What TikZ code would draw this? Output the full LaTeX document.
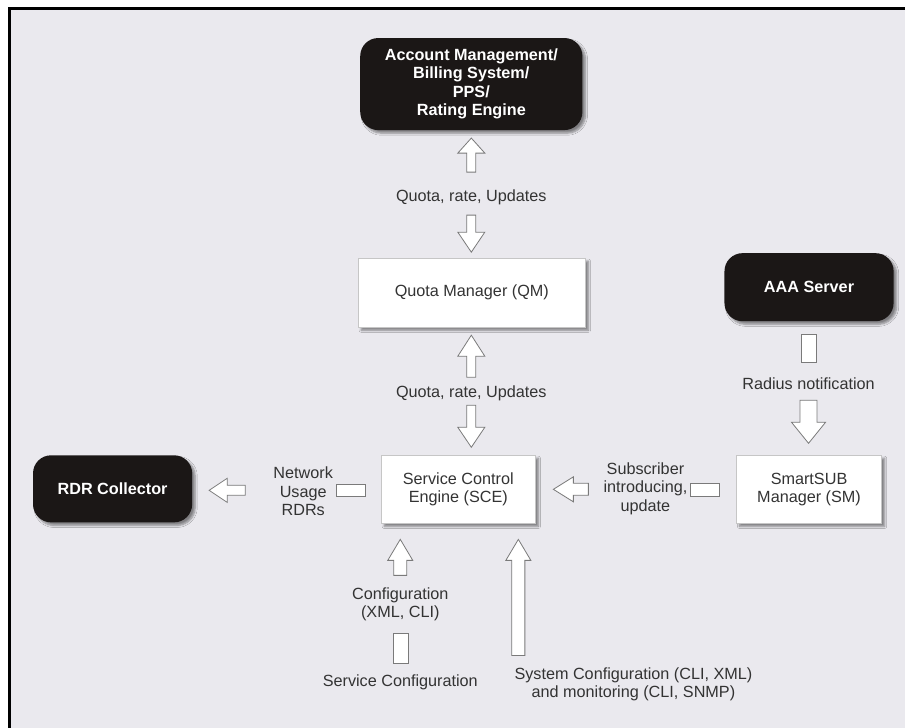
\documentclass[tikz,border=0pt]{standalone}
\usepackage{fontspec}
\setmainfont{Liberation Sans}
\usetikzlibrary{shadows.blur}
\definecolor{bg}{HTML}{EAE9EE}
\definecolor{boxblack}{HTML}{1B1716}
\definecolor{txt}{HTML}{333333}
\definecolor{arrowgray}{HTML}{7A7A7A}
\newcommand\arrUp[6]{\draw[barrow] (#1,#2) -- ({#1+#5/2},{#2+#4}) -- ({#1+#6/2},{#2+#4}) -- ({#1+#6/2},{#2+#3}) -- ({#1-#6/2},{#2+#3}) -- ({#1-#6/2},{#2+#4}) -- ({#1-#5/2},{#2+#4}) -- cycle;}
\newcommand\arrDown[6]{\draw[barrow] (#1,#2) -- ({#1+#5/2},{#2-#4}) -- ({#1+#6/2},{#2-#4}) -- ({#1+#6/2},{#2-#3}) -- ({#1-#6/2},{#2-#3}) -- ({#1-#6/2},{#2-#4}) -- ({#1-#5/2},{#2-#4}) -- cycle;}
\newcommand\arrLeft[6]{\draw[barrow] (#1,#2) -- ({#1+#4},{#2-#5/2}) -- ({#1+#4},{#2-#6/2}) -- ({#1+#3},{#2-#6/2}) -- ({#1+#3},{#2+#6/2}) -- ({#1+#4},{#2+#6/2}) -- ({#1+#4},{#2+#5/2}) -- cycle;}
\begin{document}
\begin{tikzpicture}[x=1pt,y=-1pt,
  darkbox/.style={fill=boxblack, rounded corners=18pt, text=white,
    font=\fontsize{16.2}{18.5}\selectfont\bfseries, align=center, inner sep=0pt,
    blur shadow={shadow xshift=3pt, shadow yshift=-3pt, shadow blur steps=6, shadow opacity=45}},
  whitebox/.style={fill=white, draw=gray!45, line width=0.6pt, text=txt,
    font=\fontsize{16.2}{18.5}\selectfont, align=center, inner sep=0pt,
    blur shadow={shadow xshift=3pt, shadow yshift=-3pt, shadow blur steps=6, shadow opacity=45}},
  lbl/.style={text=txt, font=\fontsize{16.2}{18.5}\selectfont, align=center, inner sep=0pt},
  barrow/.style={draw=arrowgray, fill=white, line width=0.8pt, line join=miter},
  tailbox/.style={draw=arrowgray, fill=white, line width=0.8pt}
]
\useasboundingbox (0,0) rectangle (904.4,727.5);
\fill[white] (-10,-10) rectangle (930,760);
\fill[bg] (9,8) rectangle (930,760);
\draw[line width=3pt, black] (9,760) -- (9,8) -- (930,8);

% boxes
\node[darkbox, minimum width=222pt, minimum height=92pt] (acct) at (471,84)
  {Account Management/\\Billing System/\\PPS/\\Rating Engine};
\node[whitebox, rounded corners=0pt, minimum width=227pt, minimum height=69pt] (qm) at (471.5,292.5)
  {Quota Manager (QM)};
\node[whitebox, minimum width=154pt, minimum height=68pt] (sce) at (458,489)
  {Service Control\\Engine (SCE)};
\node[darkbox, minimum width=159pt, minimum height=67pt] (rdr) at (112.5,488.5)
  {RDR Collector};
\node[darkbox, minimum width=169pt, minimum height=68pt] (aaa) at (808.5,287)
  {AAA Server};
\node[whitebox, minimum width=145pt, minimum height=68pt] (sm) at (808.5,489)
  {SmartSUB\\Manager (SM)};

% arrows between Account and QM
\arrUp{471}{138}{34}{15}{27}{9}
\node[lbl] (l1) at (471,197) {Quota, rate, Updates};
\arrDown{471}{252}{37}{20}{27}{9}

% arrows between QM and SCE
\arrUp{471}{335}{42}{21}{27}{9}
\node[lbl] (l2) at (471,393) {Quota, rate, Updates};
\arrDown{471}{447}{42}{20}{27}{9}

% RDR
\arrLeft{209}{490}{36}{18}{24}{10}
\node[lbl] (l3) at (303,491) {Network\\Usage\\RDRs};
\draw[tailbox] (336,484) rectangle (365,496);

% SM -> SCE
\arrLeft{553}{489}{35}{20}{25}{12}
\node[lbl] (l4) at (645,488) {Subscriber\\introducing,\\update};
\draw[tailbox] (690,483) rectangle (719,496);

% AAA -> SM
\draw[tailbox] (801,334) rectangle (816,362);
\node[lbl] (l5) at (808,383) {Radius notification};
\arrDown{808}{443}{43}{21}{34}{17}

% Configuration
\arrUp{400}{539}{36}{21}{25}{13}
\node[lbl] (l6) at (400,604) {Configuration\\(XML, CLI)};
\draw[tailbox] (393,633) rectangle (408,663);
\node[lbl] (l7) at (400,682) {Service Configuration};

% System configuration
\arrUp{518}{539}{116}{21}{25}{13}
\node[lbl] (l8) at (633,684) {System Configuration (CLI, XML)\\and monitoring (CLI, SNMP)};
\end{tikzpicture}
\end{document}
